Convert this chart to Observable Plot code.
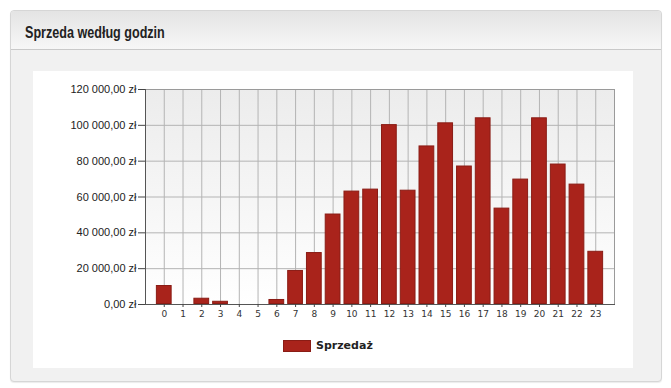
<!DOCTYPE html>
<html>
<head>
<meta charset="utf-8">
<script src="https://cdn.jsdelivr.net/npm/d3@7"></script>
<script src="https://cdn.jsdelivr.net/npm/@observablehq/plot@0.6"></script>
<style>
  html, body { margin: 0; padding: 0; background: #ffffff; }
  body { width: 671px; height: 388px; position: relative; overflow: hidden; }
  #panel {
    position: absolute; left: 10px; top: 10px; width: 650px; height: 370px;
    border: 1px solid #d6d6d6; border-radius: 4px; background: #f1f1f1;
    box-shadow: 0 1px 1px rgba(0,0,0,0.08);
  }
  #header {
    position: absolute; left: 0; top: 0; right: 0; height: 38px;
    background: linear-gradient(#e4e4e4, #f7f7f7);
    border-bottom: 1px solid #c9c9c9; border-radius: 4px 4px 0 0;
  }
  #title {
    position: absolute; left: 14px; top: 12px; white-space: nowrap;
    font-family: "Liberation Sans", sans-serif;
    font-weight: bold; font-size: 17px; color: #222;
    transform: scaleX(0.74); transform-origin: 0 0;
  }
  #box {
    position: absolute; left: 22px; top: 60px; width: 600px; height: 297px; background: #fff;
  }
  #chart { position: absolute; left: 0; top: 0; }
  #legend {
    position: absolute; left: 250px; top: 268px; display: flex; align-items: center;
    font-family: "DejaVu Sans", Verdana, sans-serif; font-weight: bold; font-size: 11px; color: #222;
  }
  #legend .sw { width: 26px; height: 10px; background: #a9231b; border: 1px solid #8a1c15; margin-right: 5px; }
</style>
</head>
<body>
<svg width="0" height="0" style="position:absolute">
  <defs>
    <linearGradient id="plotbg" x1="0" y1="0" x2="0" y2="1">
      <stop offset="0" stop-color="#ececec"/>
      <stop offset="1" stop-color="#ffffff"/>
    </linearGradient>
  </defs>
</svg>
<div id="panel">
  <div id="header"><div id="title">Sprzeda według godzin</div></div>
  <div id="box">
    <div id="chart"></div>
    <div id="legend"><div class="sw"></div><span>Sprzedaż</span></div>
  </div>
</div>
<script>
const hours = [0,1,2,3,4,5,6,7,8,9,10,11,12,13,14,15,16,17,18,19,20,21,22,23];
const sales = [10600,0,3500,1800,0,0,2800,19000,29000,50500,63300,64400,100400,63800,88500,101400,77300,104200,53800,70000,104200,78400,67200,29700];
const yTicks = [0,20000,40000,60000,80000,100000,120000];
const seriesName = "Sprzedaż";

const data = hours.map((h, i) => ({hour: h, value: sales[i]}));
const pl = d3.formatLocale({decimal: ",", thousands: "\u00a0", grouping: [3], currency: ["", " zł"]});
const fmt = d => pl.format(",.2f")(d) + " zł";

const chart = Plot.plot({
  width: 600,
  height: 262,
  marginLeft: 112,
  marginRight: 19,
  marginTop: 18,
  marginBottom: 29,
  style: {background: "transparent", fontFamily: "Liberation Sans, sans-serif"},
  x: {type: "band", domain: hours, paddingInner: 0.16, paddingOuter: 0.58, round: false, label: null},
  y: {domain: [0, 120000], label: null},
  marks: [
    Plot.frame({fill: "url(#plotbg)", stroke: "none"}),
    Plot.gridX(hours, {stroke: "#b4b4b4", strokeOpacity: 1}),
    Plot.gridY(yTicks, {stroke: "#b4b4b4", strokeOpacity: 1}),
    Plot.barY(data, {x: "hour", y: "value", fill: "#a9231b", stroke: "#8a1c15", strokeWidth: 1, inset: 0.5}),
    Plot.frame({stroke: "#9a9a9a"}),
    Plot.frame({anchor: "left", stroke: "#555"}),
    Plot.frame({anchor: "bottom", stroke: "#555"}),
    Plot.axisY(yTicks, {tickFormat: fmt, tickSize: 7, tickPadding: 2, fontSize: 11, color: "#222", stroke: "#444"}),
    Plot.axisX(hours, {tickSize: 3, tickPadding: 3, fontSize: 9, fontFamily: "DejaVu Sans, Verdana, sans-serif", color: "#333", stroke: "#444"})
  ]
});
document.getElementById("chart").appendChild(chart);
</script>
</body>
</html>
